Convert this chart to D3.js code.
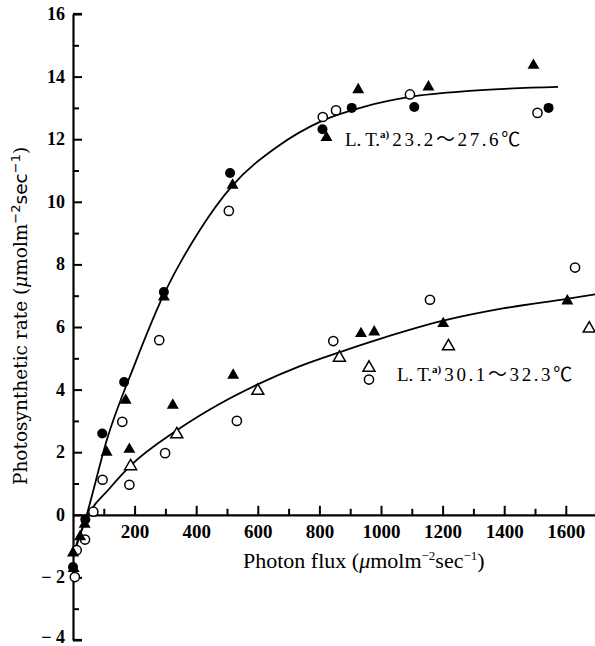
<!DOCTYPE html>
<html><head><meta charset="utf-8">
<script src="https://cdn.jsdelivr.net/npm/d3@7"></script>
<style>
body{margin:0;background:#fff;}
svg{display:block;}
text{fill:#000;}
</style></head>
<body>
<svg id="chart" width="595" height="646"></svg>
<script>
// ---- data ----
const filledCircles = [[0,-1.67],[40,-0.15],[95,2.6],[166,4.24],[295,7.12],[510,10.92],[810,12.32],[905,13.0],[1108,13.03],[1544,13.0]];
const filledTriangles = [[0,-1.22],[2,-1.72],[23,-0.7],[38,-0.3],[109,2.0],[171,3.66],[183,2.09],[295,6.96],[324,3.5],[518,10.53],[520,4.46],[823,12.05],[926,13.58],[935,5.79],[978,5.84],[1154,13.67],[1202,6.11],[1495,14.36],[1605,6.83]];
const openCircles = [[6,-1.99],[12,-1.13],[39,-0.79],[66,0.1],[96,1.12],[160,2.97],[183,0.96],[280,5.58],[299,1.97],[506,9.71],[532,3.0],[811,12.71],[845,5.55],[854,12.92],[961,4.32],[1094,13.43],[1159,6.87],[1508,12.84],[1630,7.9]];
const openTriangles = [[187,1.55],[337,2.57],[600,3.96],[865,5.02],[961,4.70],[1219,5.38],[1676,5.95]];
const curveLow = [[0,-1.3],[40,-0.15],[110,2.4],[200,4.8],[293,7.0],[412,9.1],[516,10.5],[662,11.75],[812,12.6],[950,13.05],[1094,13.35],[1300,13.55],[1575,13.67]];
const curveHigh = [[0,-1.3],[25,-0.55],[55,0.09],[115,0.8],[190,1.6],[337,2.7],[477,3.55],[596,4.15],[737,4.75],[867,5.2],[997,5.62],[1202,6.2],[1400,6.6],[1603,6.9],[1700,7.05]];
const xMajorTicks = [200,400,600,800,1000,1200,1400,1600];
const xMinorTicks = [100,300,500,700,900,1100,1300,1500];
const yMajorTicks = [-4,-2,0,2,4,6,8,10,12,14,16];
const yMinorTicks = [-3,-1,1,3,5,7,9,11,13,15];

const svg = d3.select("#chart");
const x = d3.scaleLinear().domain([0,1700]).range([73,596.6]);
const y = d3.scaleLinear().domain([-4,16]).range([640,14]);
const FONT = "'Liberation Serif','Times New Roman','Noto Sans CJK JP',serif";

// ---- y axis ----
const gy = svg.append("g").attr("transform",`translate(${x(0)},0)`);
gy.call(d3.axisRight(y).tickValues(yMajorTicks).tickSize(9).tickSizeOuter(0).tickFormat(""));
const gyMin = svg.append("g").attr("transform",`translate(${x(0)},0)`);
gyMin.call(d3.axisRight(y).tickValues(yMinorTicks).tickSize(6).tickSizeOuter(0).tickFormat(""));
gyMin.select(".domain").remove();
const gyl = svg.append("g").attr("transform",`translate(${x(0)},0)`);
gyl.call(d3.axisLeft(y).tickValues(yMajorTicks).tickSize(0).tickPadding(8)
  .tickFormat(d => d < 0 ? "\u2212 " + Math.abs(d) : String(d)));
gyl.select(".domain").remove();
gyl.attr("font-family",null).attr("font-size",null);
gyl.selectAll("text").style("font-family",FONT).style("font-size","18px").style("font-weight","bold")
  .attr("dy", d => d === -4 ? "0.12em" : "0.3em");

// ---- x axis ----
const gx = svg.append("g").attr("transform",`translate(0,${y(0)})`);
gx.call(d3.axisTop(x).tickValues(xMajorTicks).tickSize(9).tickSizeOuter(0).tickFormat(""));
const gxMin = svg.append("g").attr("transform",`translate(0,${y(0)})`);
gxMin.call(d3.axisTop(x).tickValues(xMinorTicks).tickSize(6).tickSizeOuter(0).tickFormat(""));
gxMin.select(".domain").remove();
const gxl = svg.append("g").attr("transform",`translate(0,${y(0)})`);
gxl.call(d3.axisBottom(x).tickValues(xMajorTicks).tickSize(0).tickPadding(10).tickFormat(d3.format("d")));
gxl.select(".domain").remove();
gxl.attr("font-family",null).attr("font-size",null);
gxl.selectAll("text").style("font-family",FONT).style("font-size","19px").style("font-weight","bold");

svg.selectAll(".domain").attr("stroke","#000").attr("stroke-width",2.2);
svg.selectAll(".tick line").attr("stroke","#000").attr("stroke-width",2);

// end caps of y axis (horizontal ticks at 16 and -4)
[16,-4].forEach(v=>{
  svg.append("line").attr("x1",x(0)).attr("x2",x(0)+9).attr("y1",y(v)).attr("y2",y(v))
    .attr("stroke","#000").attr("stroke-width",2.2);
});

// ---- curves ----
const line = d3.line().x(d=>x(d[0])).y(d=>y(d[1])).curve(d3.curveMonotoneX);
[curveLow, curveHigh].forEach(c=>{
  svg.append("path").datum(c).attr("d",line).attr("fill","none").attr("stroke","#000").attr("stroke-width",1.8);
});

// ---- markers ----
const tri = d3.symbol().type(d3.symbolTriangle).size(62);
svg.append("g").selectAll("circle").data(openCircles).join("circle")
  .attr("cx",d=>x(d[0])).attr("cy",d=>y(d[1])).attr("r",4.6)
  .attr("fill","#fff").attr("stroke","#000").attr("stroke-width",1.5);
svg.append("g").selectAll("path").data(openTriangles).join("path")
  .attr("d",tri).attr("transform",d=>`translate(${x(d[0])},${y(d[1])})`)
  .attr("fill","#fff").attr("stroke","#000").attr("stroke-width",1.5);
svg.append("g").selectAll("circle").data(filledCircles).join("circle")
  .attr("cx",d=>x(d[0])).attr("cy",d=>y(d[1])).attr("r",5)
  .attr("fill","#000");
svg.append("g").selectAll("path").data(filledTriangles).join("path")
  .attr("d",tri).attr("transform",d=>`translate(${x(d[0])},${y(d[1])})`)
  .attr("fill","#000");

// ---- labels ----
function ltLabel(px,py,range){
  const t = svg.append("text").attr("x",px).attr("y",py).style("font-family",FONT).style("font-size","19px");
  t.append("tspan").text("L.\u2009T.");
  t.append("tspan").attr("dy",-8).style("font-size","11px").style("font-weight","bold").text("a)");
  t.append("tspan").attr("dy",8).attr("dx",3).style("letter-spacing","2.6px").text(range);
}
ltLabel(345,146,"23.2\uFF5E27.6\u2103");
ltLabel(397,381,"30.1\uFF5E32.3\u2103");

// x title
const xt = svg.append("text").attr("x",243).attr("y",568).style("font-family",FONT).style("font-size","22px");
xt.append("tspan").text("Photon flux  (");
xt.append("tspan").style("font-style","italic").text("\u03bc");
xt.append("tspan").text("molm");
xt.append("tspan").attr("dy",-8).style("font-size","13px").text("\u22122");
xt.append("tspan").attr("dy",8).text("sec");
xt.append("tspan").attr("dy",-8).style("font-size","13px").text("\u22121");
xt.append("tspan").attr("dy",8).text(")");

// y title
const yt = svg.append("text").attr("transform","translate(27,485) rotate(-90)")
  .style("font-family","'DejaVu Serif',serif").style("font-size","18.5px");
yt.append("tspan").text("Photosynthetic rate  (");
yt.append("tspan").style("font-style","italic").text("\u03bc");
yt.append("tspan").text("molm");
yt.append("tspan").attr("dy",-7).style("font-size","13px").style("font-family","'DejaVu Sans',sans-serif").text("\u22122");
yt.append("tspan").attr("dy",7).style("font-family","'DejaVu Sans',sans-serif").text("sec");
yt.append("tspan").attr("dy",-7).style("font-size","13px").style("font-family","'DejaVu Sans',sans-serif").text("\u22121");
yt.append("tspan").attr("dy",7).text(")");
</script>
</body></html>
